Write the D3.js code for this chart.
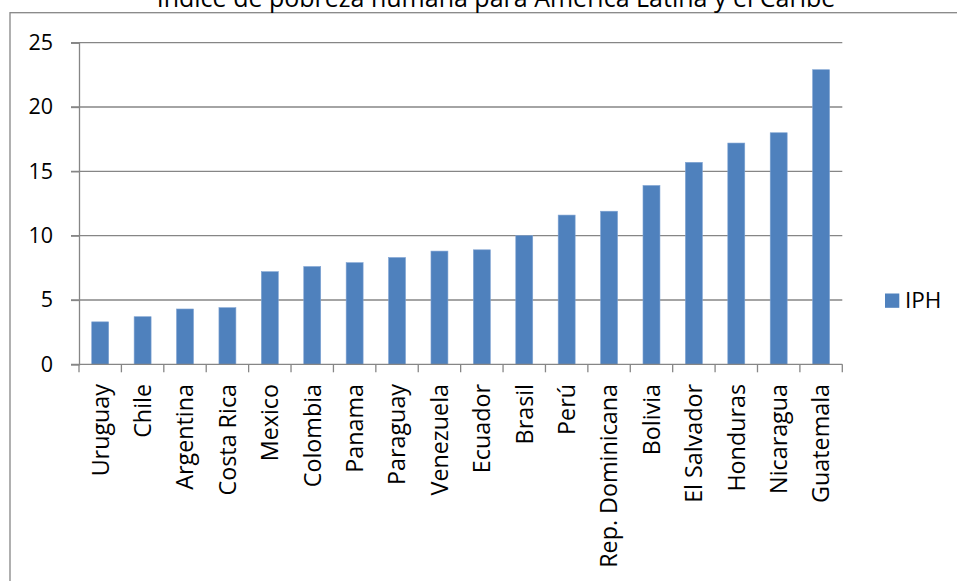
<!DOCTYPE html>
<html><head><meta charset="utf-8">
<script src="https://cdn.jsdelivr.net/npm/d3@7"></script>
<style>
html,body{margin:0;padding:0;background:#fff;overflow:hidden}
svg{display:block;font-family:"Open Sans",sans-serif}
</style></head>
<body>
<svg id="c" width="957" height="581"></svg>
<script>
const title = "Índice de pobreza humana para América Latina y el Caribe";
const categories = ["Uruguay","Chile","Argentina","Costa Rica","Mexico","Colombia","Panama","Paraguay","Venezuela","Ecuador","Brasil","Perú","Rep. Dominicana","Bolivia","El Salvador","Honduras","Nicaragua","Guatemala"];
const iph = [3.3,3.7,4.3,4.4,7.2,7.6,7.9,8.3,8.8,8.9,10.0,11.6,11.9,13.9,15.7,17.2,18.0,22.9];
const seriesName = "IPH";
const yTicks = [0,5,10,15,20,25];

const svg = d3.select("#c");
const grey = "#868686";
const barColor = "#4F81BD";

// outer chart border
svg.append("rect").attr("x",10).attr("y",12.7).attr("width",970).attr("height",600)
  .attr("fill","none").attr("stroke",grey).attr("stroke-width",1.3);

// title (cut off at the top edge, as in the reference)
svg.append("text").attr("x",496).attr("y",6.5).attr("text-anchor","middle")
  .attr("font-size",25).attr("fill","#000").text(title);

const x = d3.scaleBand().domain(categories).range([79,842.3]).paddingInner(0.6).paddingOuter(0.3);
const y = d3.scaleLinear().domain([0,25]).range([364.3,42.7]);

// gridlines
svg.append("g").selectAll("line").data(yTicks.filter(d=>d>0)).join("line")
  .attr("x1",71).attr("x2",842.3).attr("y1",d=>y(d)).attr("y2",d=>y(d))
  .attr("stroke",grey).attr("stroke-width",1.3);

// bars
svg.append("g").selectAll("rect").data(categories).join("rect")
  .attr("x",d=>x(d)).attr("width",x.bandwidth())
  .attr("y",(d,i)=>y(iph[i])).attr("height",(d,i)=>y(0)-y(iph[i]))
  .attr("fill",barColor).attr("stroke","#7fa3d3").attr("stroke-width",0.6);

// y axis
const yAxis = d3.axisLeft(y).tickValues(yTicks).tickSize(8).tickPadding(18).tickFormat(d3.format("d"));
const gy = svg.append("g").attr("transform","translate(79,0)").call(yAxis);
gy.select(".domain").attr("stroke",grey).attr("stroke-width",1.3);
gy.selectAll(".tick line").attr("stroke",grey).attr("stroke-width",1.3);
gy.selectAll(".tick text").attr("font-size",21.5).attr("font-family","Open Sans").attr("fill","#000");

// x axis line and ticks at band boundaries
const step = x.step();
const x0 = x.range()[0];
svg.append("line").attr("x1",71).attr("x2",842.3).attr("y1",y(0)).attr("y2",y(0))
  .attr("stroke",grey).attr("stroke-width",1.3);
svg.append("g").selectAll("line").data(d3.range(categories.length+1)).join("line")
  .attr("x1",i=>x0+i*step).attr("x2",i=>x0+i*step)
  .attr("y1",y(0)).attr("y2",y(0)+8).attr("stroke",grey).attr("stroke-width",1.3);

// category labels
svg.append("g").selectAll("text").data(categories).join("text")
  .attr("transform",d=>`translate(${x(d)+x.bandwidth()/2},384) rotate(-90)`)
  .attr("text-anchor","end").attr("dy","0.36em")
  .attr("font-size",23.3).attr("fill","#000").text(d=>d);

// legend
svg.append("rect").attr("x",885).attr("y",293.5).attr("width",14.3).attr("height",14.3).attr("fill",barColor);
svg.append("text").attr("x",905).attr("y",308).attr("font-size",22.5).attr("fill","#000").text(seriesName);
</script>
</body></html>
